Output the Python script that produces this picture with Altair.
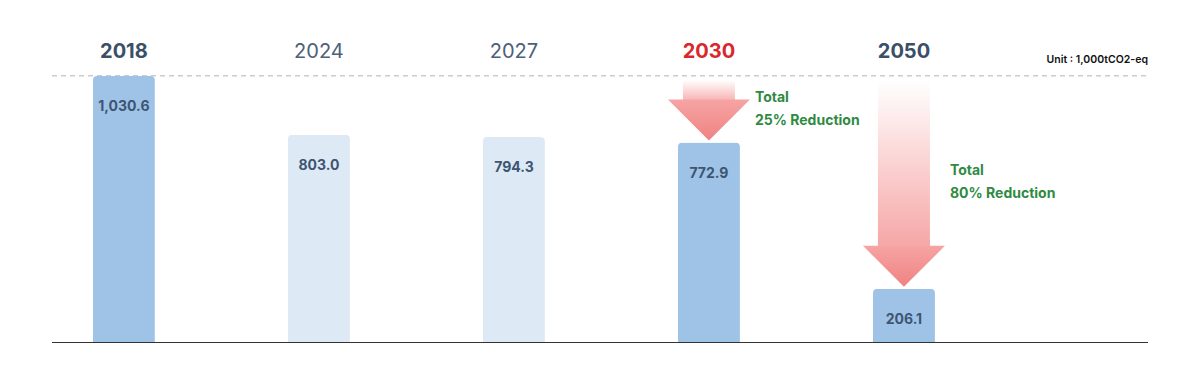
import altair as alt
import pandas as pd

# ---- data ----
years = ["2018", "2024", "2027", "2030", "2050"]
emissions = [1030.6, 803.0, 794.3, 772.9, 206.1]
value_labels = ["1,030.6", "803.0", "794.3", "772.9", "206.1"]
kinds = ["base", "interim", "interim", "target", "target"]
highlight_year = "2030"

reduction_years = ["2030", "2050"]
reduction_pct = [25, 80]

unit_text = "Unit : 1,000tCO2-eq"

base_value = emissions[0]

W, H = 1096, 266
FONT = "Inter"

df = pd.DataFrame({
    "year": years,
    "value": emissions,
    "label": value_labels,
    "kind": kinds,
    "top": [base_value] * len(years),
})

red_df = pd.DataFrame({
    "year": reduction_years,
    "value": [emissions[years.index(y)] for y in reduction_years],
    "pct": reduction_pct,
    "top": [base_value] * len(reduction_years),
})
red_df["mid"] = (red_df["top"] + red_df["value"]) / 2
red_df["line1"] = "Total"
red_df["line2"] = red_df["pct"].astype(str) + "% Reduction"

x_enc = alt.X(
    "year:N",
    scale=alt.Scale(domain=years, paddingInner=0.682, paddingOuter=0.651, align=0.161),
    axis=None,
)
y_scale = alt.Scale(domain=[0, base_value], nice=False, zero=True)


def Y(field):
    return alt.Y(field, scale=y_scale, axis=None)


base = alt.Chart(df)

bars_dark = base.transform_filter("datum.kind != 'interim'").mark_bar(
    cornerRadiusTopLeft=4, cornerRadiusTopRight=4, color="#9fc3e7"
).encode(x=x_enc, y=Y("value:Q"))

bars_light = base.transform_filter("datum.kind == 'interim'").mark_bar(
    cornerRadiusTopLeft=4, cornerRadiusTopRight=4, color="#dde9f5"
).encode(x=x_enc, y=Y("value:Q"))

value_text = base.mark_text(
    dy=31, fontSize=14, fontWeight=700, font=FONT, color="#3d5572", baseline="middle"
).encode(x=x_enc, y=Y("value:Q"), text="label:N")

year_bold = base.transform_filter(
    f"datum.kind != 'interim' && datum.year != '{highlight_year}'"
).mark_text(
    dy=-24, fontSize=20, fontWeight=700, font=FONT, baseline="middle", color="#3a4f68"
).encode(x=x_enc, y=Y("top:Q"), text="year:N")

year_red = base.transform_filter(f"datum.year == '{highlight_year}'").mark_text(
    dy=-24, fontSize=20, fontWeight=700, font=FONT, baseline="middle", color="#d9272d"
).encode(x=x_enc, y=Y("top:Q"), text="year:N")

year_norm = base.transform_filter("datum.kind == 'interim'").mark_text(
    dy=-24, fontSize=20, fontWeight=400, font=FONT, baseline="middle", color="#4d6078"
).encode(x=x_enc, y=Y("top:Q"), text="year:N")

dash_line = alt.Chart(pd.DataFrame({"top": [base_value]})).mark_rule(
    color="#cccccc", strokeDash=[5, 4], strokeWidth=1.5, yOffset=-0.25
).encode(y=Y("top:Q"), x=alt.value(0), x2=alt.value(W))

baseline = alt.Chart(pd.DataFrame({"zero": [0]})).mark_rule(
    color="#333333", strokeWidth=1, yOffset=0.5
).encode(y=Y("zero:Q"), x=alt.value(0), x2=alt.value(W))

unit = alt.Chart(pd.DataFrame({"top": [base_value], "t": [unit_text]})).mark_text(
    align="right", baseline="middle", dy=-16, fontSize=10.5, fontWeight=600,
    font=FONT, color="#111111"
).encode(x=alt.value(W), y=Y("top:Q"), text="t:N")

shaft_grad = alt.LinearGradient(
    gradient="linear", x1=0, y1=0, x2=0, y2=1,
    stops=[alt.GradientStop(color="#ffffff", offset=0),
           alt.GradientStop(color="#f6a4a4", offset=1)],
)
head_grad = alt.LinearGradient(
    gradient="linear", x1=0, y1=0, x2=0, y2=1,
    stops=[alt.GradientStop(color="#f6a4a4", offset=0),
           alt.GradientStop(color="#f08282", offset=1)],
)

rbase = alt.Chart(red_df)

shaft = rbase.mark_bar(width=52, yOffset=4, y2Offset=-38, color=shaft_grad).encode(
    x=x_enc, y=Y("top:Q"), y2="value:Q"
)

head = rbase.mark_point(
    shape="M-1,-0.5L1,-0.5L0,0.5Z", size=6724, filled=True, color=head_grad,
    opacity=1, yOffset=-22.5,
).encode(x=x_enc, y=Y("value:Q"))

green = "#2f8a43"
red_t1 = rbase.mark_text(
    align="left", baseline="middle", dx=46, dy=-11, fontSize=14, fontWeight=700,
    font=FONT, color=green,
).encode(x=x_enc, y=Y("mid:Q"), text="line1:N")
red_t2 = rbase.mark_text(
    align="left", baseline="middle", dx=46, dy=12, fontSize=14, fontWeight=700,
    font=FONT, color=green,
).encode(x=x_enc, y=Y("mid:Q"), text="line2:N")

chart = alt.layer(
    dash_line, bars_dark, bars_light, baseline, value_text,
    year_bold, year_red, year_norm, unit,
    shaft, head, red_t1, red_t2,
).properties(
    width=W, height=H,
    autosize=alt.AutoSizeParams(type="none"),
    padding={"left": 44, "top": 68, "right": 44, "bottom": 30},
).configure_view(stroke=None)

chart.save("out.html", embed_options={"renderer": "svg", "actions": False})
